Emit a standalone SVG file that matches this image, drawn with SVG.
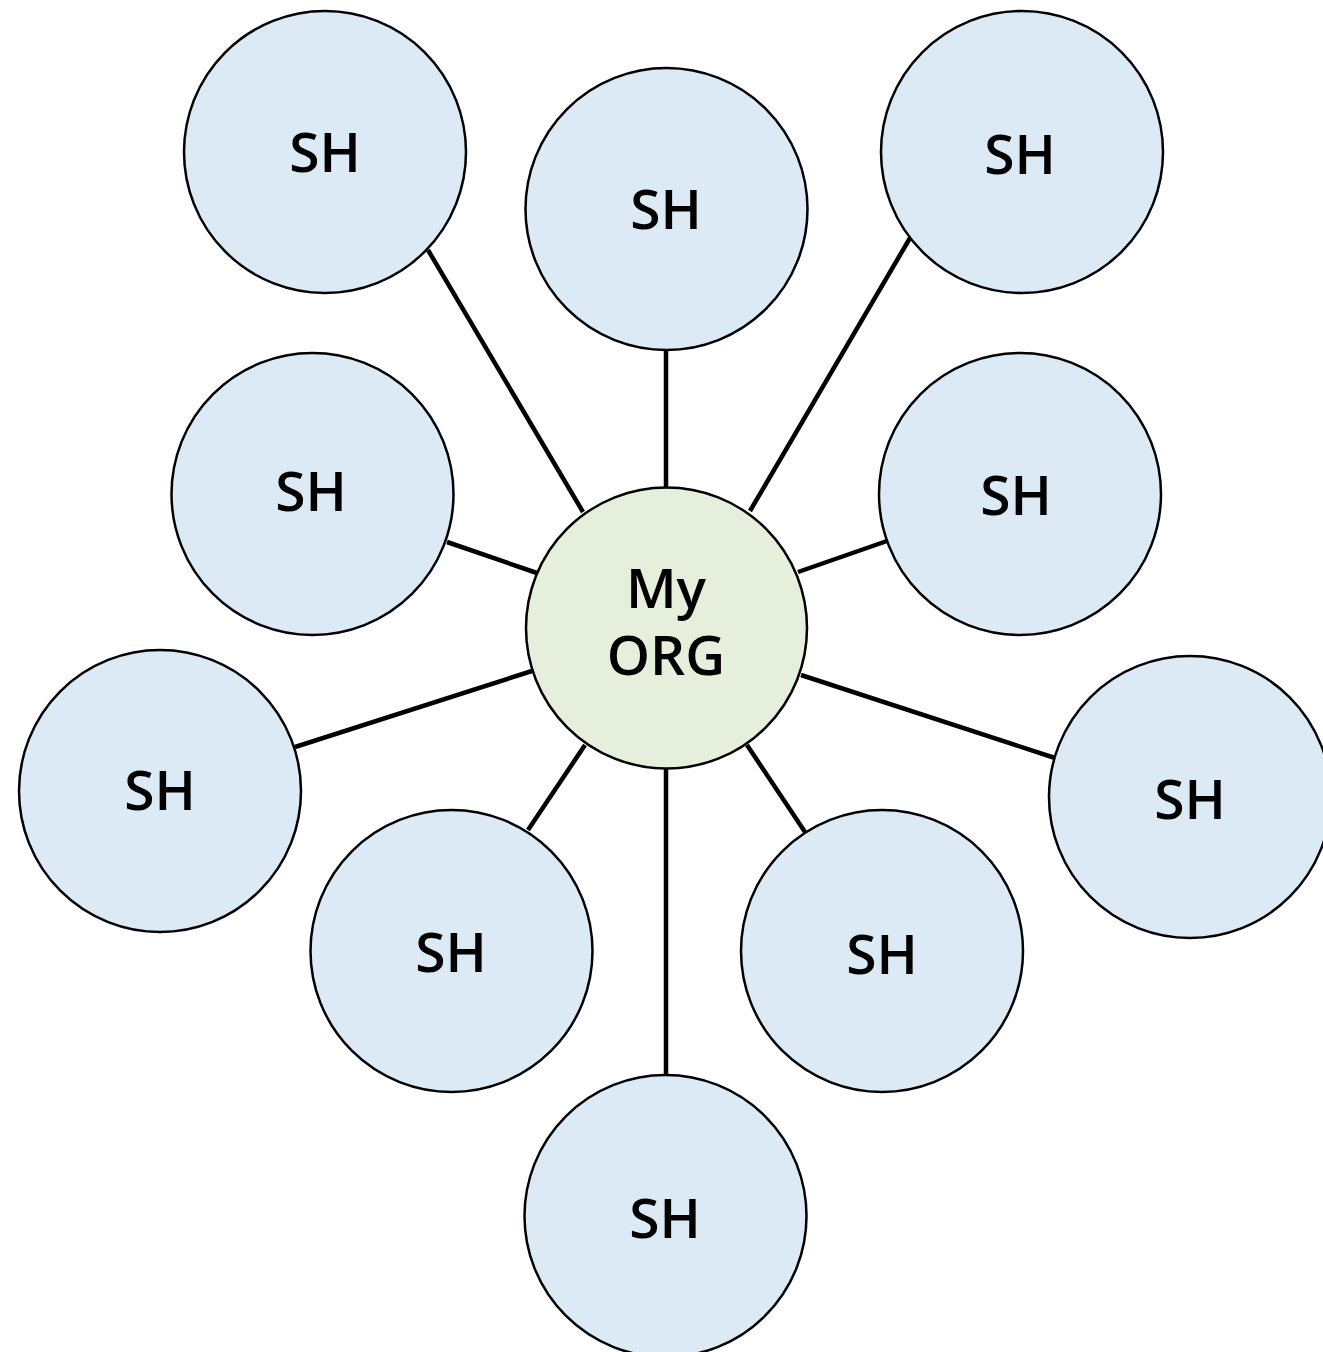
<svg xmlns="http://www.w3.org/2000/svg" width="1323" height="1352" viewBox="0 0 1323 1352">
<style>
.sh{fill:#dbeaf4;stroke:#000;stroke-width:2.5}
.org{fill:#e5efdb;stroke:#000;stroke-width:2.5}
.lbl{font-family:"Open Sans","Noto Sans",sans-serif;font-weight:600;font-size:55px;fill:#000;text-anchor:middle}
.conn line{stroke:#000;stroke-width:4.5;stroke-linecap:butt}
</style>
<rect width="1323" height="1352" fill="#fff"/>
<g id="connectors" class="conn">
<line x1="583" y1="512" x2="428" y2="250"/>
<line x1="666" y1="488" x2="666" y2="350"/>
<line x1="750" y1="511" x2="910" y2="238"/>
<line x1="537" y1="573" x2="447" y2="542"/>
<line x1="798" y1="572" x2="887" y2="541"/>
<line x1="532" y1="671" x2="295" y2="747"/>
<line x1="801" y1="675" x2="1055" y2="758"/>
<line x1="585" y1="745" x2="528" y2="830"/>
<line x1="747" y1="745" x2="805" y2="832"/>
<line x1="666" y1="768" x2="666" y2="1076"/>
</g>
<g id="org"><circle class="org" cx="666.5" cy="628" r="140.5"/><text class="lbl"><tspan x="666" y="608">My</tspan><tspan x="666" y="675">ORG</tspan></text></g>
<g id="sh1"><circle class="sh" cx="325" cy="152" r="141"/><text class="lbl" x="325" y="172">SH</text></g>
<g id="sh2"><circle class="sh" cx="666.5" cy="209" r="141"/><text class="lbl" x="666" y="229">SH</text></g>
<g id="sh3"><circle class="sh" cx="1022" cy="152" r="141"/><text class="lbl" x="1020" y="174">SH</text></g>
<g id="sh4"><circle class="sh" cx="312.5" cy="494" r="141"/><text class="lbl" x="311" y="511">SH</text></g>
<g id="sh5"><circle class="sh" cx="1020" cy="494" r="141"/><text class="lbl" x="1016" y="515">SH</text></g>
<g id="sh6"><circle class="sh" cx="160" cy="791" r="141"/><text class="lbl" x="160" y="810">SH</text></g>
<g id="sh7"><circle class="sh" cx="1190" cy="797" r="141"/><text class="lbl" x="1190" y="819">SH</text></g>
<g id="sh8"><circle class="sh" cx="451.5" cy="951" r="141"/><text class="lbl" x="451" y="972">SH</text></g>
<g id="sh9"><circle class="sh" cx="882" cy="951" r="141"/><text class="lbl" x="882" y="974">SH</text></g>
<g id="sh10"><circle class="sh" cx="665.5" cy="1216" r="141"/><text class="lbl" x="665" y="1238">SH</text></g>
</svg>
